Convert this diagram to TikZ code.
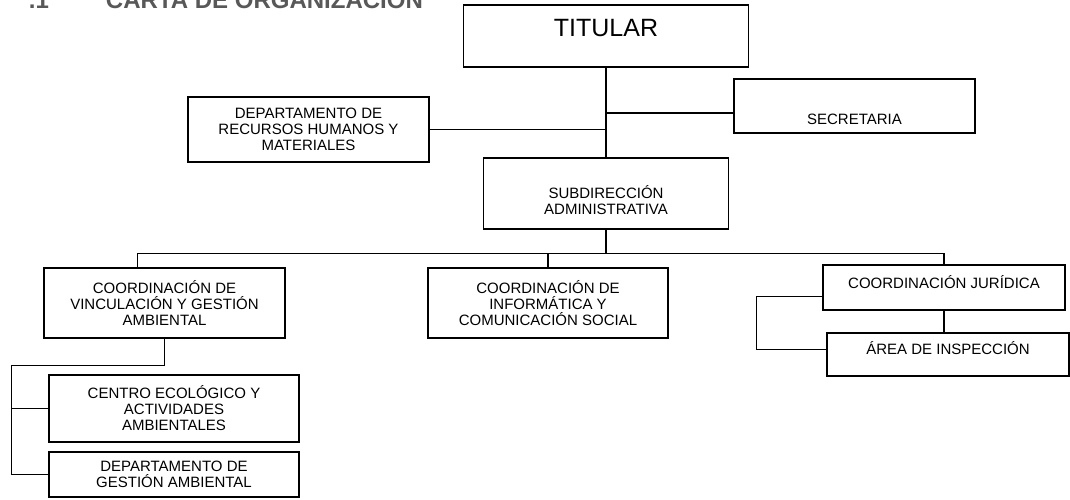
\documentclass[tikz,border=0pt]{standalone}
\usepackage{fontspec}
\setmainfont{Liberation Sans}
\usepackage{tikz}
\definecolor{titlegray}{RGB}{88,88,88}
\newcommand{\unitfont}{\fontsize{15}{16}\selectfont}
\tikzstyle{unit} = [draw, rectangle, align=center, inner sep=0pt, font=\unitfont]
\tikzstyle{heading} = [anchor=base west, text=titlegray, font=\fontsize{24}{26}\selectfont\bfseries]

\begin{document}
\begin{tikzpicture}[x=1pt, y=-1pt, line width=1.3pt]
\useasboundingbox (0,0) rectangle (1070,499);
% Heading
\node [heading] (num) at (25,8) {.1};
\node [heading] (title) at (102,8) {CARTA DE ORGANIZACIÓN};

% Blocks
\node [unit, minimum width=285pt, minimum height=62pt, font=\fontsize{25}{27}\selectfont,
       text height=18pt, text depth=18pt] (titular) at (606,36) {TITULAR};
\node [unit, minimum width=241pt, minimum height=54pt, text height=36.5pt, text depth=0pt]
      (secre) at (854.5,106) {SECRETARIA};
\node [unit, minimum width=241pt, minimum height=65pt] (rrhh) at (308.5,129.5)
      {DEPARTAMENTO DE\\RECURSOS HUMANOS Y\\MATERIALES};
\node [unit, minimum width=245pt, minimum height=71pt, text height=42.5pt]
      (subdir) at (606,193.5) {SUBDIRECCIÓN\\ADMINISTRATIVA};
\node [unit, minimum width=241pt, minimum height=70pt] (vinc) at (164.5,303)
      {COORDINACIÓN DE\\VINCULACIÓN Y GESTIÓN\\AMBIENTAL};
\node [unit, minimum width=240pt, minimum height=70pt] (inform) at (548,303)
      {COORDINACIÓN DE\\INFORMÁTICA Y\\COMUNICACIÓN SOCIAL};
\node [unit, minimum width=242pt, minimum height=45pt, text height=10.7pt, text depth=9pt]
      (juri) at (944,287.5) {COORDINACIÓN JURÍDICA};
\node [unit, minimum width=242pt, minimum height=43pt, text height=10.7pt, text depth=11pt]
      (area) at (948,354.5) {ÁREA DE INSPECCIÓN};
\node [unit, minimum width=250pt, minimum height=67pt] (centro) at (174,408.5)
      {CENTRO ECOLÓGICO Y\\ACTIVIDADES\\AMBIENTALES};
\node [unit, minimum width=250pt, minimum height=45pt] (gest) at (174,474.5)
      {DEPARTAMENTO DE\\GESTIÓN AMBIENTAL};

% Top of the chart
\draw (titular.south) -- (subdir.north);
\draw (rrhh.east) -- (rrhh.east -| titular.south);
\draw ([yshift=-7pt]secre.west) -- ([yshift=-7pt]secre.west -| titular.south);

% Bus to the coordinations
\draw (subdir.south) -- ++(0,24) coordinate (bus);
\draw ([xshift=-27pt]vinc.north) |- (juri.north |- bus) -- (juri.north);
\draw (inform.north) -- (inform.north |- bus);

% Left branch
\draw (vinc.south) -- ++(0,27) -| ([xshift=-37pt]gest.west) -- (gest.west);
\draw (centro.west) -- ++(-37,0);

% Right branch
\draw (juri.south) -- (juri.south |- area.north);
\draw ([yshift=-9pt]juri.west) -- ++(-66,0) |- ([yshift=5pt]area.west);
\end{tikzpicture}
\end{document}
